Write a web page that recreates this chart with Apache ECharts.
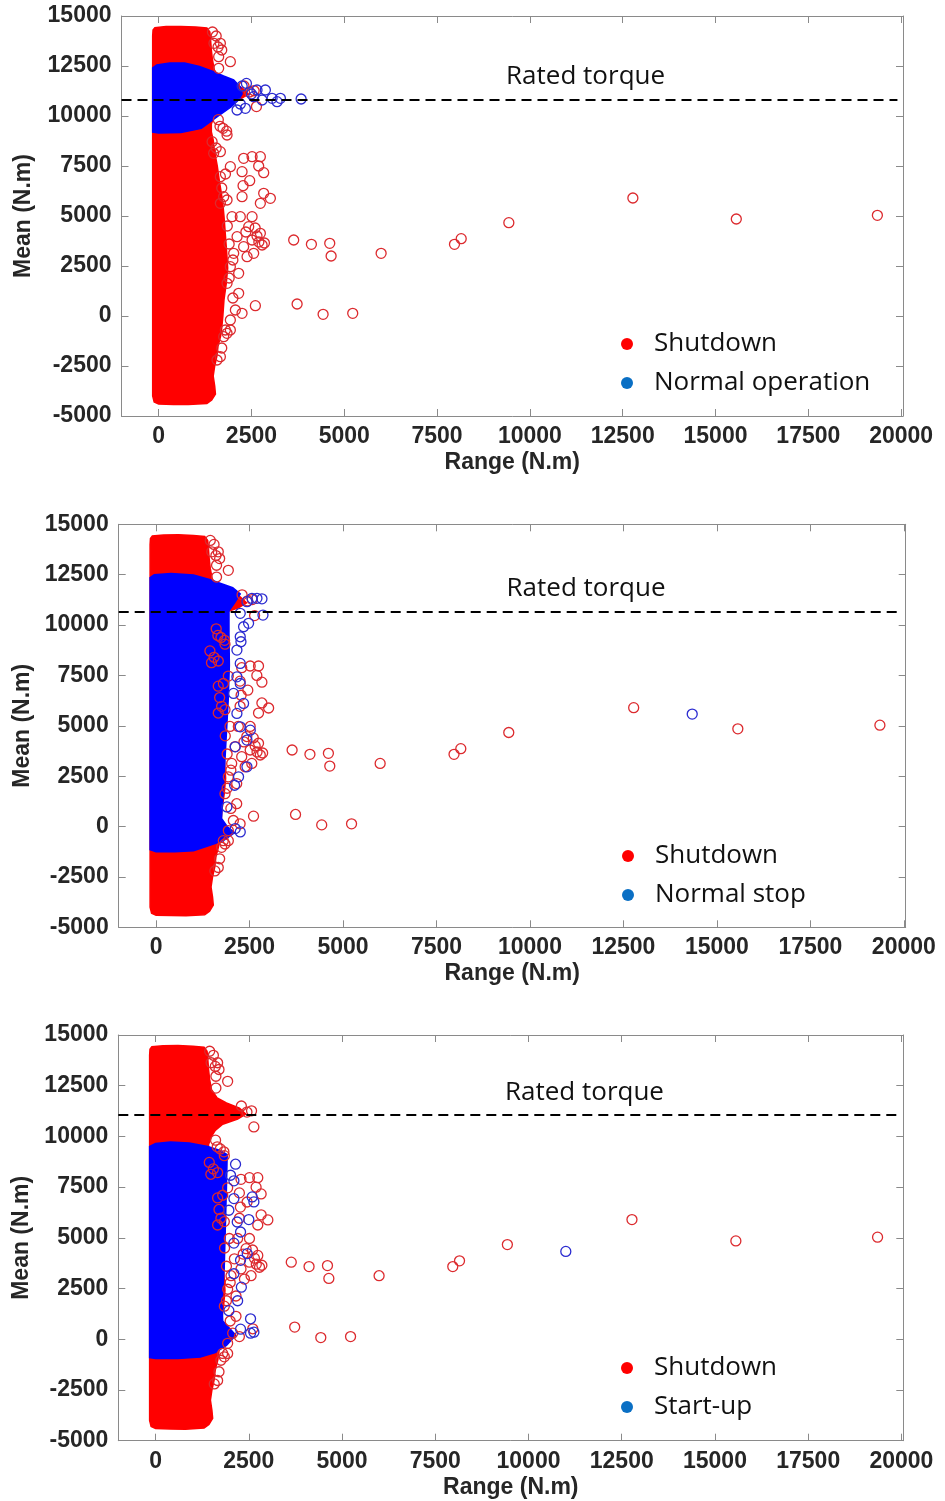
<!DOCTYPE html>
<html>
<head>
<meta charset="utf-8">
<script src="https://cdn.jsdelivr.net/npm/echarts@6/dist/echarts.min.js"></script>
<style>
html,body{margin:0;padding:0;background:#fff;}
#chart{width:945px;height:1501px;}
</style>
</head>
<body>
<div id="chart"></div>
<script>
// ---------- data ----------
const xTicks = [0, 2500, 5000, 7500, 10000, 12500, 15000, 17500, 20000];
const yTicks = [-5000, -2500, 0, 2500, 5000, 7500, 10000, 12500, 15000];

// outline of the dense Shutdown cloud (Range, Mean)
const shutdownCloud = [
  [-150, 14300], [-100, 14420], [200, 14470], [600, 14480], [1000, 14450], [1300, 14400],
  [1380, 14200], [1400, 13800], [1420, 13300], [1450, 12800], [1500, 12300], [1650, 11900],
  [1900, 11650], [2250, 11400], [2420, 11100], [2200, 10850], [1800, 10600], [1600, 10300],
  [1500, 10000], [1420, 9600], [1420, 9200], [1470, 8800], [1500, 8300], [1580, 7500],
  [1640, 6700], [1720, 5800], [1760, 5000], [1800, 4000], [1840, 3000], [1860, 2400],
  [1820, 1600], [1760, 800], [1730, 0], [1700, -600], [1670, -1000], [1600, -1500],
  [1570, -2000], [1510, -2500], [1470, -3000], [1510, -3500], [1530, -3900], [1430, -4200],
  [1300, -4380], [800, -4430], [400, -4420], [0, -4400], [-120, -4300], [-160, -4000], [-160, 14000]
];
// individual Shutdown points outside the cloud
const shutdownPoints = [
  [1490, 13633], [1663, 13633], [1600, 13450], [1617, 12967], [1932, 12717], [1617, 12383],
  [1700, 13300], [1550, 14000], [1450, 14200],
  [2573, 11262], [2635, 10470], [2300, 11500], [2450, 11200], [1608, 9815], [1653, 9486], [1832, 9240],
  [1735, 9383], [1843, 9050], [1440, 8717], [1663, 8217], [1482, 8133], [1550, 8400],
  [2290, 7883], [2517, 7967], [2740, 7967], [2695, 7500], [2830, 7167], [2247, 7217], [2453, 6767],
  [2274, 6517], [1932, 7467], [1663, 6967], [1752, 5967], [2247, 5967], [2830, 6133], [3010, 5883],
  [2740, 5633], [1843, 5800], [1663, 5633], [1700, 6400], [1800, 7100],
  [1977, 4967], [2200, 4967], [2517, 4967], [2426, 4467], [2740, 4133], [2787, 3550], [2517, 3800],
  [2290, 3467], [2113, 3967], [2022, 3133], [2382, 2967], [2560, 3133], [1932, 2467], [2156, 2133],
  [2156, 1133], [1843, 1633], [2606, 517], [2247, 133], [2067, 300], [1932, -200], [1798, -700],
  [2650, 4000], [2700, 3700], [2850, 3650], [2600, 4400], [2350, 4200], [1850, 4500], [1900, 3600],
  [2000, 2800], [1900, 1900], [2000, 900],
  [1932, -700], [1843, -867], [1752, -1033], [1663, -2033], [1573, -2200], [1700, -1600],
  [3638, 3800], [4115, 3583], [4609, 3633], [4646, 3000], [5993, 3133], [3730, 600], [4430, 83],
  [5228, 133], [7969, 3583], [8150, 3867], [9433, 4667], [12774, 5900], [15560, 4850], [19360, 5033]
];

// Normal operation
const normalOpCloud = [
  [-160, 9200], [-160, 12400], [-50, 12550], [300, 12650], [700, 12650], [1100, 12480],
  [1480, 12220], [1750, 12000], [2020, 11800], [2200, 11450], [2250, 11100], [2150, 10800],
  [1950, 10450], [1580, 9970], [1150, 9380], [600, 9170], [0, 9150]
];
const normalOpPoints = [
  [2365, 11630], [2650, 11300], [2875, 11300], [2787, 10800], [3056, 10883], [3280, 10883],
  [3190, 10717], [3838, 10850], [2337, 10383], [2113, 10300], [2560, 10967], [2500, 11100],
  [2250, 11500], [2200, 10600]
];

// Normal stop
const normalStopCloud = [
  [-160, -1150], [-160, 12350], [-50, 12500], [400, 12560], [1000, 12480], [1450, 12250],
  [1750, 12050], [2050, 11850], [2250, 11550], [2100, 11100], [1950, 10700], [1950, 9600],
  [1960, 8000], [1930, 6300], [1880, 4600], [1810, 2200], [1750, 400], [1900, 0], [2100, -300],
  [1800, -700], [1400, -950], [1000, -1200], [500, -1250], [0, -1250]
];
const normalStopPoints = [
  [2564, 11325], [2698, 11325], [2832, 11300], [2430, 11160], [2859, 10496], [2251, 10580],
  [2474, 10084], [2340, 9915], [2251, 9418], [2270, 9170], [2162, 8758], [2251, 8097],
  [2162, 7430], [2251, 7100], [2072, 6607], [2340, 6111], [2162, 5614], [2251, 4949],
  [2519, 4785], [2430, 4290], [2117, 3956], [2430, 2962], [2206, 2466], [2100, 2050],
  [1894, 976], [2251, -265], [2117, -100], [14340, 5580]
];

// Start-up
const startUpCloud = [
  [-160, -900], [-160, 9500], [0, 9650], [400, 9720], [900, 9680], [1400, 9500], [1750, 9300],
  [1920, 9100], [1900, 7500], [1870, 5500], [1840, 3500], [1780, 1800], [1800, 900], [2000, 500],
  [2150, 200], [1900, -300], [1600, -650], [1200, -880], [600, -950], [0, -950]
];
const startUpPoints = [
  [2144, 8630], [2010, 8087], [2100, 7810], [2100, 6936], [2591, 7017], [2636, 6770],
  [2500, 5899], [2189, 5782], [1965, 6360], [2278, 5288], [2100, 4740], [2457, 4220],
  [2278, 3890], [2100, 3230], [2300, 2570], [2200, 1900], [1965, 1410], [2546, 1010],
  [2636, 350], [2278, 500], [2546, 300], [11000, 4330]
];

const ratedTorque = [10800, 10650, 11050];
const panelNames = ['Normal operation', 'Normal stop', 'Start-up'];
const panelClouds = [normalOpCloud, normalStopCloud, startUpCloud];
const panelPoints = [normalOpPoints, normalStopPoints, startUpPoints];

// ---------- layout ----------
const grids = [
  {left: 121.5, top: 16, width: 781.5, height: 400},
  {left: 118.7, top: 524.3, width: 787, height: 403},
  {left: 118.3, top: 1035, width: 785, height: 405.7}
];
const legendPos = [{left: 621, top: 329}, {left: 622, top: 841}, {left: 621, top: 1353}];
const yNameGap = [86, 85, 85];

const AX = '#8a8a8a';
const TXT = '#262626';
const LBL_FONT = {fontSize: 23, fontWeight: 'bold', color: TXT, fontFamily: 'Liberation Sans, Arial, sans-serif'};
const RED = '#ff0000', BLUE = '#0000ff';
const RED_RING = '#dc2a2e', BLUE_RING = '#2b2bd0';
const plain = function (v) { return String(v); };

const xAxes = [], yAxes = [], series = [], legends = [];

function cloud(name, pts, color, gi) {
  return {
    type: 'custom', name: name, xAxisIndex: 2 * gi, yAxisIndex: 2 * gi,
    data: [pts[0]], silent: true, animation: false, clip: true,
    renderItem: function (params, api) {
      return {
        type: 'polygon',
        shape: {points: pts.map(function (p) { return api.coord(p); })},
        style: {fill: color, stroke: color, lineWidth: 1.5}
      };
    }
  };
}
function rings(name, pts, color, gi) {
  return {
    type: 'scatter', name: name, xAxisIndex: 2 * gi, yAxisIndex: 2 * gi,
    data: pts, symbol: 'circle', symbolSize: 10, silent: true, animation: false,
    itemStyle: {color: 'rgba(0,0,0,0)', borderColor: color, borderWidth: 1.3, opacity: 1}
  };
}

for (let gi = 0; gi < 3; gi++) {
  const common = {type: 'value', gridIndex: gi, min: -1000, max: 20050, splitLine: {show: false},
    axisLine: {show: true, onZero: false, lineStyle: {color: AX, width: 1}}};
  xAxes.push(Object.assign({}, common, {
    position: 'bottom',
    axisTick: {show: true, inside: true, length: 7, customValues: xTicks, lineStyle: {color: AX}},
    axisLabel: Object.assign({customValues: xTicks, margin: 9, formatter: plain}, LBL_FONT),
    name: 'Range (N.m)', nameLocation: 'middle', nameGap: 35, nameTextStyle: LBL_FONT
  }));
  xAxes.push(Object.assign({}, common, {
    position: 'top',
    axisTick: {show: true, inside: true, length: 7, customValues: xTicks, lineStyle: {color: AX}},
    axisLabel: {show: false}
  }));
  const ycommon = {type: 'value', gridIndex: gi, min: -5000, max: 15000, interval: 2500,
    splitLine: {show: false}, axisLine: {show: true, onZero: false, lineStyle: {color: AX, width: 1}},
    axisTick: {show: true, inside: true, length: 7, lineStyle: {color: AX}}};
  yAxes.push(Object.assign({}, ycommon, {
    position: 'left',
    axisLabel: Object.assign({margin: 10, customValues: yTicks, formatter: plain}, LBL_FONT),
    name: 'Mean (N.m)', nameLocation: 'middle', nameGap: yNameGap[gi], nameTextStyle: LBL_FONT
  }));
  yAxes.push(Object.assign({}, ycommon, {position: 'right', axisLabel: {show: false}}));

  series.push(cloud('Shutdown', shutdownCloud, RED, gi));
  series.push(rings('Shutdown', shutdownPoints, RED_RING, gi));
  series.push(cloud(panelNames[gi], panelClouds[gi], BLUE, gi));
  const s = rings(panelNames[gi], panelPoints[gi], BLUE_RING, gi);
  s.markLine = {
    silent: true, symbol: 'none', animation: false,
    lineStyle: {color: '#000', width: 2, type: [10, 6]},
    label: {show: false},
    data: [[{coord: [-1000, ratedTorque[gi]]}, {coord: [19900, ratedTorque[gi]]}]]
  };
  s.markPoint = {
    silent: true, animation: false, symbol: 'circle', symbolSize: 0,
    label: {show: true, position: 'top', distance: 10, formatter: 'Rated torque',
      fontSize: 26, fontFamily: 'Open Sans, sans-serif', color: '#111'},
    data: [{coord: [11500, ratedTorque[gi]]}]
  };
  series.push(s);

  legends.push({
    orient: 'vertical', left: legendPos[gi].left, top: legendPos[gi].top, padding: 0,
    itemWidth: 12, itemHeight: 12, itemGap: 9, icon: 'circle', selectedMode: false,
    textStyle: {fontSize: 26, fontFamily: 'Open Sans, sans-serif', color: '#111', lineHeight: 30, padding: [0, 0, 0, 16]},
    data: [
      {name: 'Shutdown', icon: 'circle', itemStyle: {color: '#ff0000', borderWidth: 0}},
      {name: panelNames[gi], icon: 'circle', itemStyle: {color: '#0a6fc4', borderWidth: 0}}
    ]
  });
}

const chart = echarts.init(document.getElementById('chart'), null, {renderer: 'canvas'});
chart.setOption({
  backgroundColor: '#ffffff',
  animation: false,
  grid: grids,
  xAxis: xAxes,
  yAxis: yAxes,
  legend: legends,
  series: series
});
</script>
</body>
</html>
